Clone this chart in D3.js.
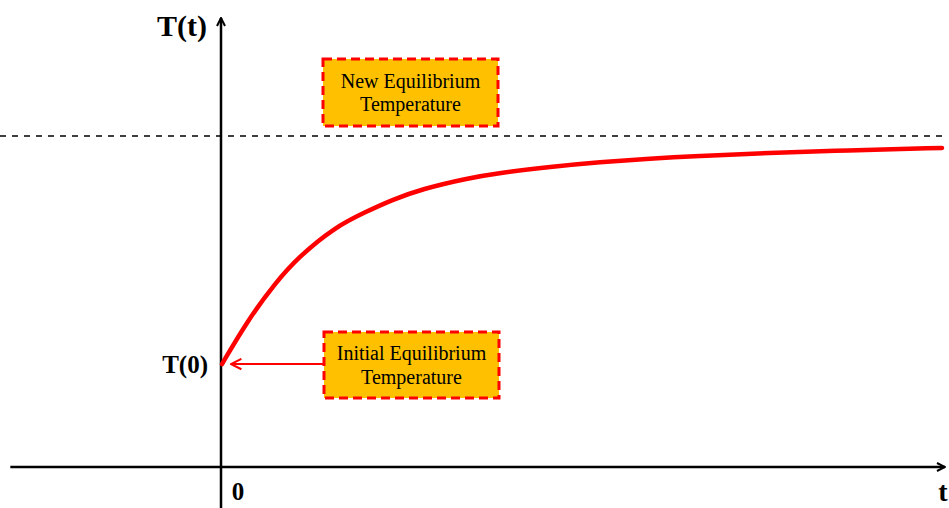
<!DOCTYPE html>
<html><head><meta charset="utf-8">
<script src="https://cdn.jsdelivr.net/npm/d3@7"></script>
<style>html,body{margin:0;padding:0;background:#fff;overflow:hidden}</style>
</head><body>
<svg id="c" width="949" height="508"></svg>
<script>
// Data (abstract units: time t, temperature T; equilibrium = 1)
const timeValues = [0, 0.36, 0.74, 1.06, 1.57, 1.99, 2.36, 2.78, 3.4, 3.86, 4.56, 5.25, 5.94, 6.64, 7.33, 8.72, 10];
const tempValues = [0.311, 0.444, 0.556, 0.634, 0.725, 0.770, 0.807, 0.840, 0.872, 0.889, 0.907, 0.921, 0.932, 0.940, 0.947, 0.957, 0.964];
const equilibriumValue = 1;
const initialValue = 0.311;
const labels = {yAxis: "T(t)", xAxis: "t", origin: "0", initial: "T(0)"};
const boxNew = ["New Equilibrium", "Temperature"];
const boxInit = ["Initial Equilibrium", "Temperature"];

const svg = d3.select("#c");
const x = d3.scaleLinear().domain([0, 10]).range([222, 942]);
const y = d3.scaleLinear().domain([0, 1]).range([467, 136]);
const serif = "'Liberation Serif','Times New Roman',serif";

// arrow markers
const defs = svg.append("defs");
defs.append("marker").attr("id","blk").attr("viewBox","0 0 10 10").attr("refX",9).attr("refY",5)
  .attr("markerWidth",10).attr("markerHeight",10).attr("markerUnits","userSpaceOnUse").attr("orient","auto")
  .append("path").attr("d","M1,1 L9,5 L1,9").attr("fill","none").attr("stroke","#000").attr("stroke-width",2);
defs.append("marker").attr("id","red").attr("viewBox","0 0 10 10").attr("refX",9).attr("refY",5)
  .attr("markerWidth",13).attr("markerHeight",13).attr("markerUnits","userSpaceOnUse").attr("orient","auto")
  .append("path").attr("d","M1,1 L9,5 L1,9").attr("fill","none").attr("stroke","#ff0000").attr("stroke-width",1.6);

// equilibrium dashed line
svg.append("line").attr("x1",0).attr("x2",944).attr("y1",y(equilibriumValue)).attr("y2",y(equilibriumValue))
  .attr("stroke","#000").attr("stroke-width",1.5).attr("stroke-dasharray","6,6");

// axes
svg.append("line").attr("x1",x(-2.94)).attr("x2",945).attr("y1",y(0)).attr("y2",y(0))
  .attr("stroke","#000").attr("stroke-width",2.5).attr("marker-end","url(#blk)");
svg.append("line").attr("x1",x(0)-1).attr("x2",x(0)-1).attr("y1",508).attr("y2",18)
  .attr("stroke","#000").attr("stroke-width",2.5).attr("marker-end","url(#blk)");

// curve
const line = d3.line().x((d,i)=>x(timeValues[i])).y(d=>y(d)).curve(d3.curveBasis);
svg.append("path").datum(tempValues).attr("d",line).attr("fill","none")
  .attr("stroke","#ff0000").attr("stroke-width",4.5).attr("stroke-linecap","round");

// axis labels
svg.append("text").attr("x",207).attr("y",36).attr("text-anchor","end").attr("font-family",serif)
  .attr("font-weight","bold").attr("font-size",30).text(labels.yAxis);
svg.append("text").attr("x",208).attr("y",y(initialValue)+9).attr("text-anchor","end").attr("font-family",serif)
  .attr("font-weight","bold").attr("font-size",25).text(labels.initial);
svg.append("text").attr("x",238).attr("y",500).attr("text-anchor","middle").attr("font-family",serif)
  .attr("font-weight","bold").attr("font-size",25).text(labels.origin);
svg.append("text").attr("x",943).attr("y",501).attr("text-anchor","middle").attr("font-family",serif)
  .attr("font-weight","bold").attr("font-size",28).text(labels.xAxis);

// red pointer arrow
svg.append("line").attr("x1",323).attr("x2",231).attr("y1",y(initialValue)).attr("y2",y(initialValue))
  .attr("stroke","#ff0000").attr("stroke-width",2).attr("marker-end","url(#red)");

// annotation boxes
function box(bx, by, bw, bh, lines, ty) {
  svg.append("rect").attr("x",bx).attr("y",by).attr("width",bw).attr("height",bh)
    .attr("fill","#ffc000").attr("stroke","#ff0000").attr("stroke-width",3).attr("stroke-dasharray","9,5");
  lines.forEach((t,i)=>{
    svg.append("text").attr("x",bx+bw/2).attr("y",ty[i]).attr("text-anchor","middle")
      .attr("font-family",serif).attr("font-size",20).attr("fill","#000").text(t);
  });
}
box(323, 59, 175, 67, boxNew, [88, 111]);
box(324, 332, 175, 66, boxInit, [360, 384]);
</script>
</body></html>
